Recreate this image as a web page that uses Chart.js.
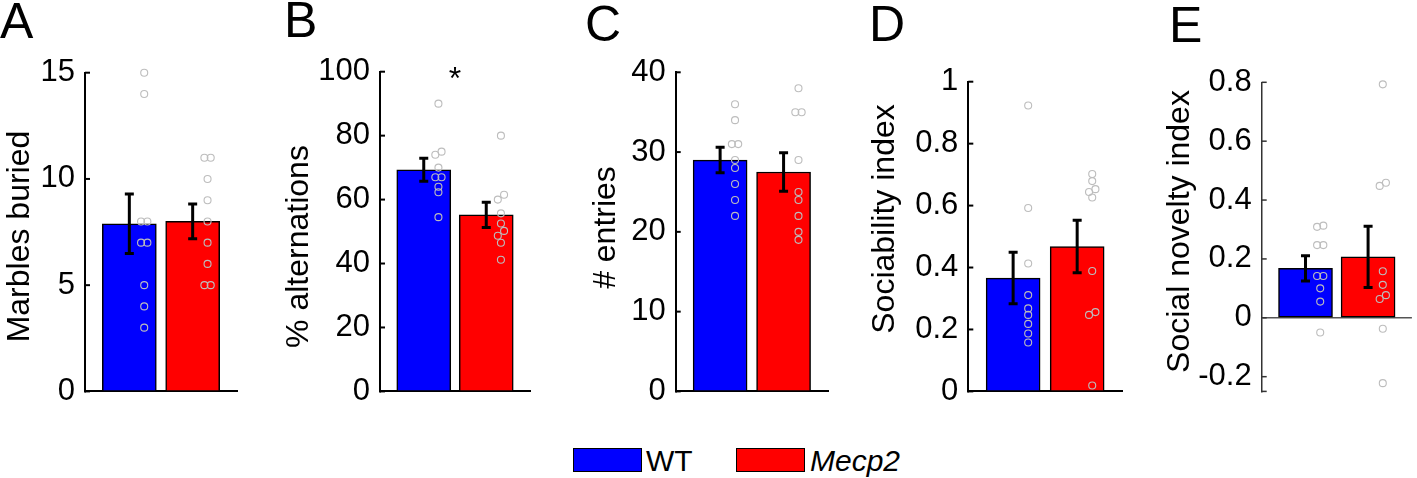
<!DOCTYPE html>
<html>
<head>
<script src="https://cdn.jsdelivr.net/npm/chart.js@4.4.1/dist/chart.umd.min.js"></script>
<style>
  body { margin:0; background:#fff; width:1417px; height:478px; position:relative; overflow:hidden;
         font-family:"Liberation Sans", Arial, sans-serif; color:#000; }
  canvas { position:absolute; top:0; }
  .letter { position:absolute; font-size:50px; line-height:50px; }
  .box { position:absolute; top:448px; width:69px; height:24px; box-sizing:border-box; border:1.5px solid #000; }
  .legtxt { position:absolute; top:446px; font-size:30px; line-height:30px; }
</style>
</head>
<body>
<div class="letter" style="left:0px;top:-4px">A</div>
<div class="letter" style="left:284px;top:-5px">B</div>
<div class="letter" style="left:585px;top:-1px">C</div>
<div class="letter" style="left:869px;top:-1px">D</div>
<div class="letter" style="left:1169px;top:0px">E</div>

<canvas id="cA"></canvas>
<canvas id="cB"></canvas>
<canvas id="cC"></canvas>
<canvas id="cD"></canvas>
<canvas id="cE"></canvas>

<div class="box" style="left:573px;background:#0000ff"></div>
<div class="legtxt" style="left:646px">WT</div>
<div class="box" style="left:736px;background:#ff0000"></div>
<div class="legtxt" style="left:810px;font-style:italic">Mecp2</div>

<script>
  var groups = ['WT', 'Mecp2'];
  var barColors = ['#0000ff', '#ff0000'];

  // A - marble burying
  var marblesMean = [7.89, 8.0];
  var marblesSem = [1.40, 0.82];
  var marblesWT = [15, 14, 8, 8, 7, 7, 5, 4, 3];
  var marblesMecp2 = [11, 11, 10, 9, 8, 7, 6, 5, 5];

  // B - spontaneous alternation
  var altMean = [69.3, 55.2];
  var altSem = [3.6, 3.95];
  var altWT = [90, 75, 74, 70, 67, 67, 64, 62.3, 54.5];
  var altMecp2 = [80, 61.5, 60, 55.7, 52.5, 50.2, 48.7, 46.5, 41.2];

  // C - arm entries
  var entriesMean = [29.0, 27.5];
  var entriesSem = [1.6, 2.4];
  var entriesWT = [36, 34, 31, 31, 29, 28, 26, 24, 22];
  var entriesMecp2 = [38, 35, 35, 29, 25, 24, 22, 20, 19];

  // D - sociability
  var sociMean = [0.366, 0.468];
  var sociSem = [0.083, 0.085];
  var sociWT = [0.923, 0.592, 0.413, 0.311, 0.268, 0.247, 0.218, 0.187, 0.158];
  var sociMecp2 = [0.702, 0.679, 0.653, 0.644, 0.626, 0.389, 0.256, 0.247, 0.019];

  // E - social novelty
  var noveltyMean = [0.168, 0.207];
  var noveltySem = [0.043, 0.104];
  var noveltyWT = [0.313, 0.309, 0.247, 0.247, 0.142, 0.142, 0.100, 0.055, -0.050];
  var noveltyMecp2 = [0.793, 0.459, 0.448, 0.158, 0.112, 0.077, 0.064, -0.037, -0.222];

  var panels = [
    {id:'cA', title:'Marbles buried', min:0, max:15, step:5, mean:marblesMean, sem:marblesSem, wt:marblesWT, mut:marblesMecp2,
     L:0, X:85, R:237, T:72.7, B:398, titleX:20, titleY:236.5},
    {id:'cB', title:'% alternations', min:0, max:100, step:20, mean:altMean, sem:altSem, wt:altWT, mut:altMecp2,
     L:270, X:380, R:530, T:71.7, B:397.7, titleX:299, titleY:246.5, star:true},
    {id:'cC', title:'# entries', min:0, max:40, step:10, mean:entriesMean, sem:entriesSem, wt:entriesWT, mut:entriesMecp2,
     L:560, X:675.7, R:828, T:72.3, B:397.7, titleX:605.8, titleY:227.5},
    {id:'cD', title:'Sociability index', min:0, max:1, step:0.2, mean:sociMean, sem:sociSem, wt:sociWT, mut:sociMecp2,
     L:850, X:968.3, R:1122.7, T:81.7, B:398.3, titleX:884.7, titleY:219},
    {id:'cE', title:'Social novelty index', min:-0.25, max:0.8, step:0.2, mean:noveltyMean, sem:noveltySem, wt:noveltyWT, mut:noveltyMecp2,
     L:1130, X:1261.7, R:1417, T:82.3, B:399, titleX:1179.7, titleY:231.5, zeroLine:true}
  ];

  var fontFamily = '"Liberation Sans", Arial, sans-serif';

  // spread near-equal points sideways, like the original scatter
  function dotPoints(vals, xc, range) {
    var sorted = vals.slice().sort(function (a, b) { return b - a; });
    var pts = [];
    var i = 0;
    while (i < sorted.length) {
      var j = i + 1;
      while (j < sorted.length && sorted[j - 1] - sorted[j] < range * 0.016) j++;
      var n = j - i;
      for (var k = i; k < j; k++) {
        var off = n === 1 ? 0 : 0.05 - 0.1 * (k - i) / (n - 1);
        pts.push({x: xc + 0.235 + off, y: sorted[k]});
      }
      i = j;
    }
    return pts;
  }

  function makePanel(p) {
    var cv = document.getElementById(p.id);
    var padR = p.zeroLine ? 0 : 6;
    cv.width = p.R + padR - p.L;
    cv.height = 420;
    cv.style.left = p.L + 'px';
    var range = p.max - p.min;
    var axisColor = p.zeroLine ? '#333' : '#000';

    var extras = {
      id: 'extras',
      afterDatasetsDraw: function (chart) {
        var ctx = chart.ctx, xs = chart.scales.x, ys = chart.scales.y;
        ctx.save();
        // error bars
        ctx.strokeStyle = '#000';
        ctx.lineWidth = 3;
        p.mean.forEach(function (m, i) {
          var px = xs.getPixelForValue(i + 1);
          var hi = ys.getPixelForValue(m + p.sem[i]);
          var lo = ys.getPixelForValue(m - p.sem[i]);
          ctx.beginPath();
          ctx.moveTo(px, hi); ctx.lineTo(px, lo);
          ctx.moveTo(px - 4.5, hi); ctx.lineTo(px + 4.5, hi);
          ctx.moveTo(px - 4.5, lo); ctx.lineTo(px + 4.5, lo);
          ctx.stroke();
        });
        // inward tick marks
        ctx.strokeStyle = axisColor;
        ctx.lineWidth = p.zeroLine ? 1.5 : 2;
        var x0 = chart.chartArea.left;
        var tickVals = ys.ticks.map(function (t) { return t.value; });
        if (p.zeroLine) tickVals.push(p.min);
        tickVals.forEach(function (v) {
          var py = ys.getPixelForValue(v);
          ctx.beginPath();
          ctx.moveTo(x0, py); ctx.lineTo(x0 + 5, py);
          ctx.stroke();
        });
        ctx.fillStyle = '#000';
        if (p.star) {
          ctx.font = '32px ' + fontFamily;
          ctx.textAlign = 'center';
          ctx.textBaseline = 'alphabetic';
          ctx.fillText('*', xs.getPixelForValue(1.5), ys.getPixelForValue(p.max) + 17);
        }
        // y-axis label
        ctx.translate(p.titleX - p.L, p.titleY);
        ctx.rotate(-Math.PI / 2);
        ctx.font = '32px ' + fontFamily;
        ctx.textAlign = 'center';
        ctx.textBaseline = 'middle';
        ctx.fillText(p.title, 0, 0);
        ctx.restore();
      }
    };

    new Chart(cv, {
      data: {
        datasets: [
          {
            type: 'bar',
            label: 'means',
            data: p.mean.map(function (v, i) { return {x: i + 1, y: v}; }),
            backgroundColor: barColors,
            borderColor: '#000',
            borderWidth: 1.5,
            borderSkipped: false,
            barThickness: 54,
            order: 2
          },
          {
            type: 'scatter',
            label: 'animals',
            data: dotPoints(p.wt, 1, range).concat(dotPoints(p.mut, 2, range)),
            pointRadius: 3.5,
            pointBackgroundColor: 'rgba(0,0,0,0)',
            pointBorderColor: '#bdbdbd',
            pointBorderWidth: 1.1,
            clip: false,
            order: 1
          }
        ]
      },
      options: {
        responsive: false,
        animation: false,
        events: [],
        layout: { padding: { left: 0, right: padR, top: p.T, bottom: 420 - p.B } },
        plugins: { legend: { display: false }, tooltip: { enabled: false } },
        scales: {
          x: {
            type: 'linear', min: 0.3, max: 2.7, offset: false,
            ticks: { display: false },
            grid: { display: false, drawTicks: false },
            border: { display: !p.zeroLine, color: '#000', width: 2 }
          },
          y: {
            type: 'linear', min: p.min, max: p.max,
            afterFit: function (s) { s.width = p.X - p.L; },
            ticks: {
              stepSize: p.step, includeBounds: false, padding: 10, color: '#000',
              font: { family: fontFamily, size: 31 },
              callback: function (v) { return String(+v.toFixed(2)); }
            },
            grid: {
              display: !!p.zeroLine, drawTicks: false,
              color: function (c) { return c.tick && c.tick.value === 0 ? '#555' : 'rgba(0,0,0,0)'; },
              lineWidth: 1.5
            },
            border: { display: true, color: axisColor, width: p.zeroLine ? 1.5 : 2 },
            title: { display: false, text: p.title }
          }
        }
      },
      plugins: [extras]
    });
  }

  panels.forEach(makePanel);
</script>
</body>
</html>
